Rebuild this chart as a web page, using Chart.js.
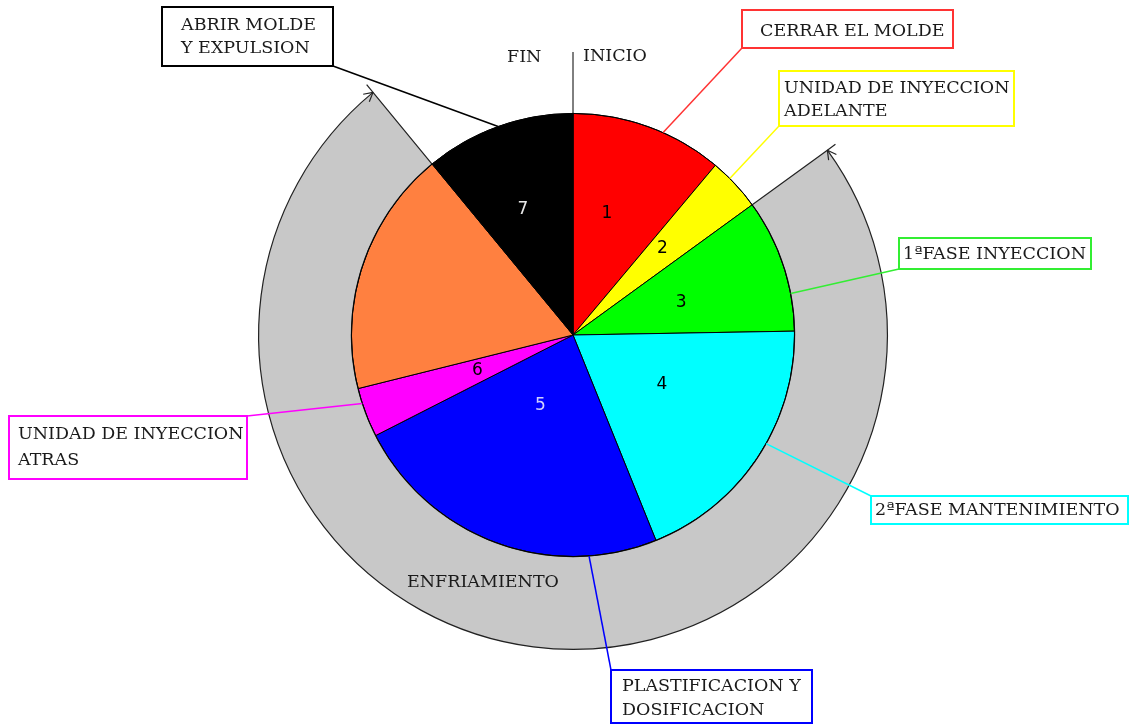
<!DOCTYPE html>
<html>
<head>
<meta charset="utf-8">
<title>Ciclo de inyeccion</title>
<script src="https://cdn.jsdelivr.net/npm/chart.js@4.4.1/dist/chart.umd.min.js"></script>
<style>
  body { margin: 0; background: #fff; }
  #wrap { width: 1131px; height: 724px; }
</style>
</head>
<body>
<div id="wrap"><canvas id="cycle" width="1131" height="724"></canvas></div>
<script>
// phases of the injection cycle, clockwise from INICIO (degrees of the cycle)
const phases = [
  "CERRAR EL MOLDE",
  "UNIDAD DE INYECCION ADELANTE",
  "1ªFASE INYECCION",
  "2ªFASE MANTENIMIENTO",
  "PLASTIFICACION Y DOSIFICACION",
  "UNIDAD DE INYECCION ATRAS",
  "ENFRIAMIENTO",
  "ABRIR MOLDE Y EXPULSION",
];
const phaseDegrees = [40, 14, 35, 69, 85, 13, 64.5, 39.5];
const phaseNumbers = ["1", "2", "3", "4", "5", "6", "", "7"];
const phaseColors = ["#ff0000", "#ffff00", "#00ff00", "#00ffff", "#0000ff", "#ff00ff", "#ff8040", "#000000"];

// outer ring: cooling runs from the start of injection to the mould opening
const coolingParts = ["", "ENFRIAMIENTO", ""];
const coolingDegrees = [54, 266.5, 39.5];

const serif = "17.5px 'DejaVu Serif'";

// callout boxes, each tied to one slice of the pie
const callouts = [
  { slice: 7, frac: 0.5, box: [162, 7, 171, 59], from: [333, 66], lines: ["ABRIR MOLDE", "Y EXPULSION"], tx: 181, ty: [25, 48], color: "#000000" },
  { slice: 0, frac: 0.6, box: [742, 10, 211, 38], from: [742, 48], lines: ["CERRAR EL MOLDE"], tx: 760, ty: [31], color: "#ff3333" },
  { slice: 1, frac: 0.36, box: [779, 71, 235, 55], from: [779, 126], lines: ["UNIDAD DE INYECCION", "ADELANTE"], tx: 784, ty: [88, 111], color: "#ffff00" },
  { slice: 2, frac: 0.72, box: [899, 238, 192, 31], from: [899, 269], lines: ["1ªFASE INYECCION"], tx: 903, ty: [254], color: "#33ee33" },
  { slice: 3, frac: 0.44, box: [871, 496, 257, 28], from: [871, 496], lines: ["2ªFASE MANTENIMIENTO"], tx: 875, ty: [510], color: "#00ffff" },
  { slice: 5, frac: 0.69, box: [9, 416, 238, 63], from: [247, 416], lines: ["UNIDAD DE INYECCION", "ATRAS"], tx: 18, ty: [434, 460], color: "#ff00ff" },
  { slice: 4, frac: 0.21, box: [611, 670, 201, 53], from: [611, 670], lines: ["PLASTIFICACION Y", "DOSIFICACION"], tx: 622, ty: [686, 710], color: "#0000ff" },
];

// where the slice numbers sit: fraction of the slice angle, fraction of the radius
const numberSpots = [
  [0.39, 0.57], [0.43, 0.56], [0.55, 0.51], [0.44, 0.46],
  [0.55, 0.35], [0.52, 0.46], [0.5, 0.5], [0.45, 0.61],
];
const numberColors = ["#000", "#000", "#000", "#000", "#d0d0ff", "#000", "#000", "#e8e8e8"];

const cycleAnnotations = {
  id: "cycleAnnotations",
  afterDatasetsDraw(chart) {
    const ctx = chart.ctx;
    const pie = chart.getDatasetMeta(1).data;
    const ring = chart.getDatasetMeta(0).data[1];
    const cx = pie[0].x;
    const cy = pie[0].y;
    const r = pie[0].outerRadius;

    const pointOn = (arc, frac, rad) => {
      const a = arc.startAngle + frac * (arc.endAngle - arc.startAngle);
      return [cx + Math.cos(a) * rad, cy + Math.sin(a) * rad];
    };

    ctx.save();

    // pie outline
    ctx.strokeStyle = "#000";
    ctx.lineWidth = 1;
    ctx.beginPath();
    ctx.arc(cx, cy, r, 0, Math.PI * 2);
    ctx.stroke();

    // INICIO / FIN marker
    ctx.beginPath();
    ctx.moveTo(cx, cy);
    ctx.lineTo(cx, 52);
    ctx.stroke();

    // arrow heads at both ends of the cooling ring
    const ro = ring.outerRadius;
    [[ring.startAngle, -1], [ring.endAngle, 1]].forEach(([a, dirSign]) => {
      const tipX = cx + Math.cos(a) * ro;
      const tipY = cy + Math.sin(a) * ro;
      // tangent pointing away from the ring
      const tx = -Math.sin(a) * dirSign;
      const ty = Math.cos(a) * dirSign;
      ctx.strokeStyle = "#222";
      ctx.lineWidth = 1.2;
      ctx.beginPath();
      ctx.moveTo(tipX, tipY);
      ctx.lineTo(tipX + Math.cos(a) * 10, tipY + Math.sin(a) * 10);
      ctx.stroke();
      [0.5, -0.5].forEach((spread) => {
        const bx = -tx * Math.cos(spread) + ty * Math.sin(spread);
        const by = -ty * Math.cos(spread) - tx * Math.sin(spread);
        ctx.beginPath();
        ctx.moveTo(tipX, tipY);
        ctx.lineTo(tipX + bx * 10, tipY + by * 10);
        ctx.stroke();
      });
    });

    // slice numbers
    ctx.font = "17px 'DejaVu Sans'";
    ctx.textAlign = "center";
    ctx.textBaseline = "middle";
    pie.forEach((arc, i) => {
      if (!phaseNumbers[i]) return;
      const [x, y] = pointOn(arc, numberSpots[i][0], r * numberSpots[i][1]);
      ctx.fillStyle = numberColors[i];
      ctx.fillText(phaseNumbers[i], x, y);
    });

    // callouts with leader lines
    ctx.font = serif;
    ctx.textAlign = "left";
    callouts.forEach((c) => {
      const [ex, ey] = pointOn(pie[c.slice], c.frac, r);
      ctx.strokeStyle = c.color;
      ctx.lineWidth = 1.5;
      ctx.beginPath();
      ctx.moveTo(c.from[0], c.from[1]);
      ctx.lineTo(ex, ey);
      ctx.stroke();
      ctx.fillStyle = "#fff";
      ctx.fillRect(c.box[0], c.box[1], c.box[2], c.box[3]);
      ctx.lineWidth = 2;
      ctx.strokeRect(c.box[0], c.box[1], c.box[2], c.box[3]);
      ctx.fillStyle = "#1a1a1a";
      c.lines.forEach((line, k) => ctx.fillText(line, c.tx, c.ty[k]));
    });

    // free labels
    ctx.fillStyle = "#1a1a1a";
    ctx.fillText(coolingParts[1], 407, 582);
    ctx.fillText("FIN", 507, 57);
    ctx.fillText("INICIO", 583, 56);

    ctx.restore();
  },
};

const ctx = document.getElementById("cycle");
const chart = new Chart(ctx, {
  type: "pie",
  data: {
    labels: phases,
    datasets: [
      {
        label: "Enfriamiento",
        data: coolingDegrees,
        backgroundColor: ["rgba(0,0,0,0)", "#c8c8c8", "rgba(0,0,0,0)"],
        borderColor: "#222",
        borderWidth: [0, 1.2, 0],
        weight: 93,
      },
      {
        label: "Ciclo",
        data: phaseDegrees,
        backgroundColor: phaseColors,
        borderColor: "#000",
        borderWidth: 1,
        weight: 222,
      },
    ],
  },
  options: {
    responsive: false,
    animation: false,
    layout: { padding: { top: 20, bottom: 74, left: 258, right: 243 } },
    plugins: {
      legend: { display: false },
      tooltip: { enabled: false },
      title: { display: false },
    },
  },
  plugins: [cycleAnnotations],
});
</script>
</body>
</html>
